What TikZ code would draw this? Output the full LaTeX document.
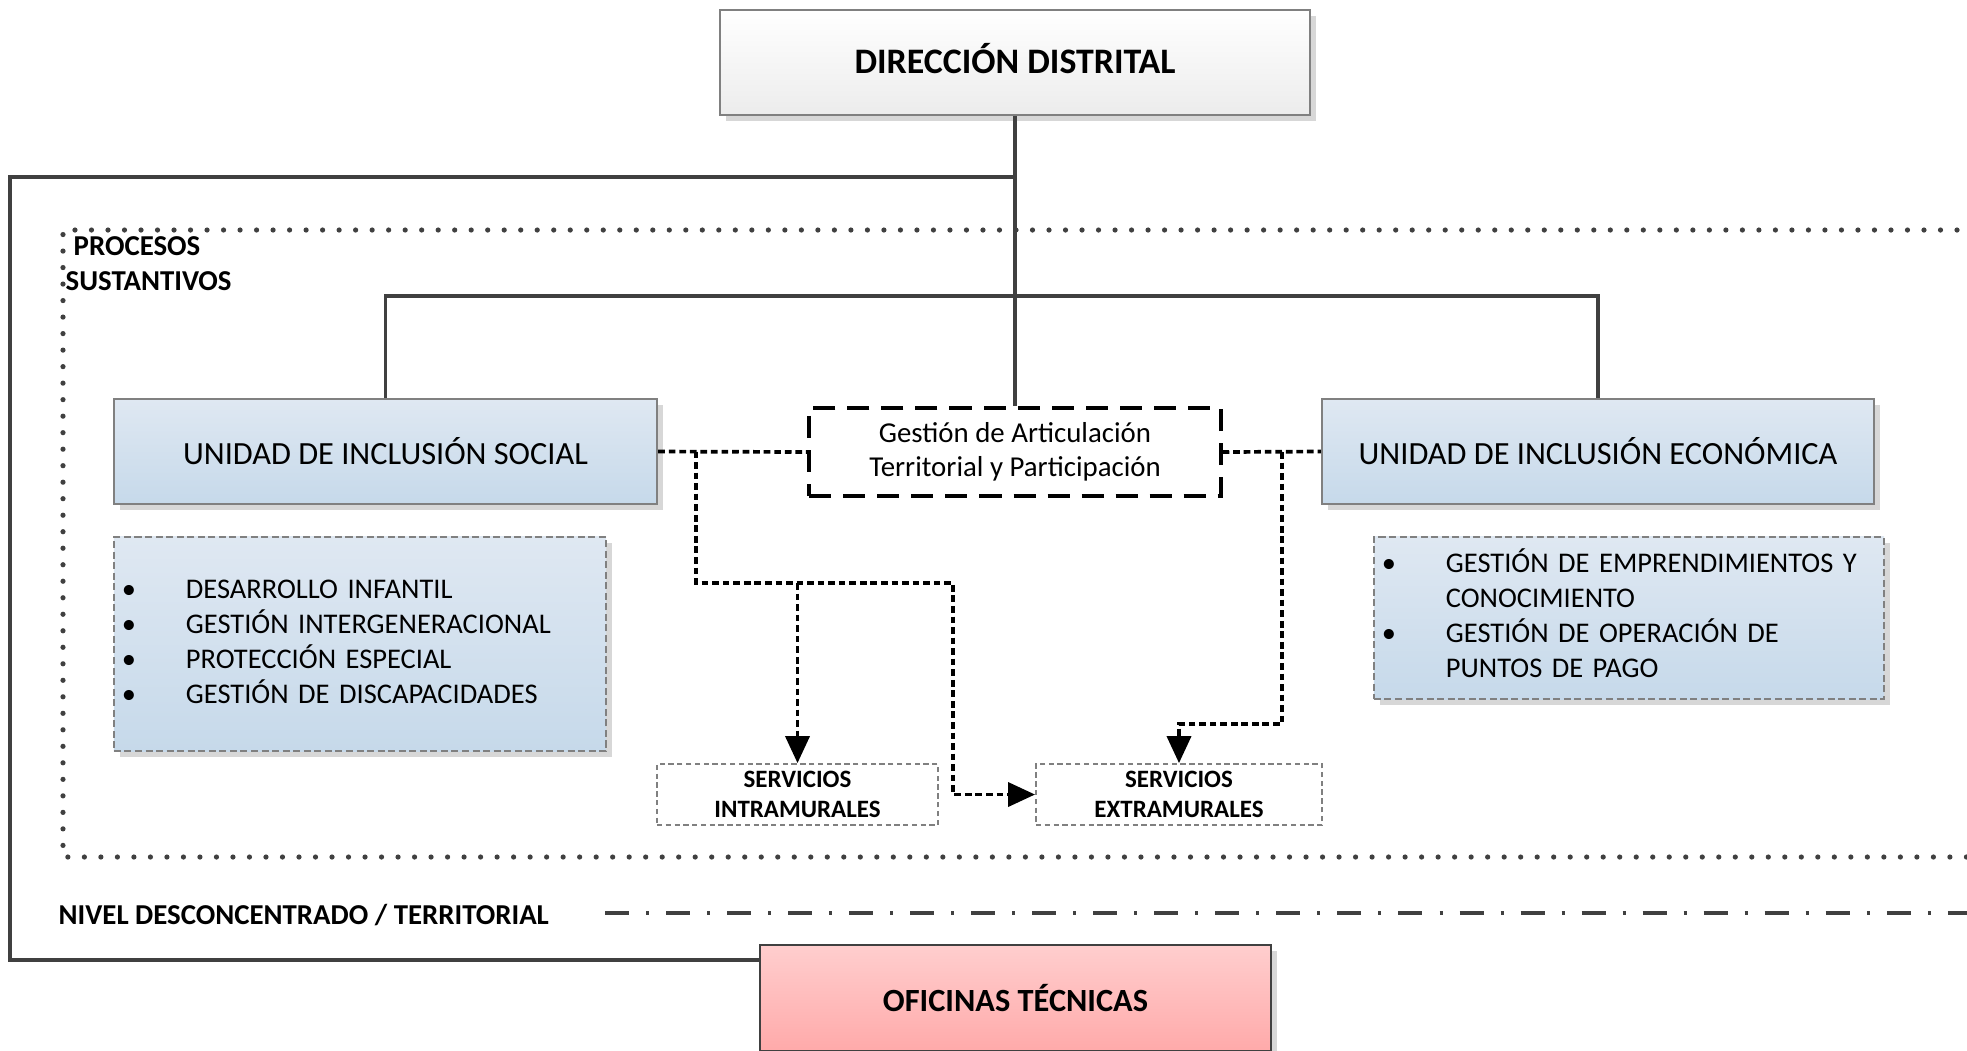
\documentclass[tikz,border=0pt]{standalone}
\usepackage{fontspec}
\setmainfont{Carlito}
\usepackage{tikz}
\usetikzlibrary{arrows.meta, shadows}
\definecolor{linecolor}{RGB}{64, 64, 64}
\definecolor{framecolor}{RGB}{128, 128, 128}
\definecolor{shadowcolor}{RGB}{215, 215, 215}
\definecolor{headbottom}{RGB}{236, 236, 236}
\definecolor{unittop}{RGB}{223, 232, 242}
\definecolor{unitbottom}{RGB}{198, 217, 234}
\definecolor{officetop}{RGB}{255, 206, 206}
\definecolor{officebottom}{RGB}{255, 170, 170}
\tikzset{
    boxshadow/.style = {
        drop shadow={shadow xshift=0.06cm, shadow yshift=-0.06cm, fill=shadowcolor, opacity=1}
    },
    headbox/.style = {
        rectangle, minimum width=5.9cm, minimum height=1.05cm, draw=framecolor, line width=0.6pt,
        top color=white, bottom color=headbottom, boxshadow,
        font=\fontsize{10.2}{12}\selectfont\bfseries
    },
    unitbox/.style = {
        rectangle, minimum height=1.05cm, draw=framecolor, line width=0.6pt,
        top color=unittop, bottom color=unitbottom, boxshadow,
        font=\fontsize{9.2}{11}\selectfont
    },
    listbox/.style = {
        rectangle, draw=framecolor, line width=0.5pt, dash pattern=on 2pt off 1pt,
        top color=unittop, bottom color=unitbottom, boxshadow,
        inner xsep=0.08cm, inner ysep=0pt, align=left,
        font=\fontsize{8.1}{10}\selectfont
    },
    articbox/.style = {
        rectangle, minimum width=4.11cm, minimum height=0.88cm, draw=black, line width=1.1pt,
        dash pattern=on 0.22cm off 0.12cm, fill=white, align=center,
        font=\fontsize{8.2}{9.7}\selectfont
    },
    servbox/.style = {
        rectangle, minimum height=0.61cm, draw=framecolor, line width=0.5pt,
        dash pattern=on 1.5pt off 1pt, fill=white, align=center, inner sep=0pt,
        font=\fontsize{7.1}{8.5}\selectfont\bfseries
    },
    officebox/.style = {
        rectangle, minimum width=5.11cm, minimum height=1.06cm, draw=linecolor, line width=0.6pt,
        top color=officetop, bottom color=officebottom, boxshadow,
        font=\fontsize{9.2}{11}\selectfont\bfseries
    },
    sectionlabel/.style = {
        inner sep=0pt, align=left, font=\fontsize{8.2}{10}\selectfont\bfseries
    },
    link/.style = {draw=linecolor, line width=0.036cm},
    flow/.style = {draw=black, line width=1.05pt, dash pattern=on 1.9pt off 1.1pt},
    flowarrow/.style = {flow, -{Triangle[length=0.27cm, width=0.24cm]}},
    dotframe/.style = {draw=linecolor, line width=0.052cm, line cap=round, dash pattern=on 0pt off 0.165cm},
    levelline/.style = {draw=linecolor, line width=0.042cm, dash pattern=on 0.24cm off 0.17cm on 0.03cm off 0.17cm}
}
\begin{document}
\begin{tikzpicture}[x=0.01cm, y=-0.01cm]
\useasboundingbox (0,0) rectangle (1967,1050);
\clip (0,0) rectangle (1967,1050);
% Frames
\draw[dotframe] (1990,230) -- (63,230) -- (63,857) -- (1990,857);
\draw[levelline] (605,913) -- (1990,913);
% Nodes
\node[headbox, text depth=0.08cm] (dir) at (1015,62.5) {DIRECCIÓN DISTRITAL};
\node[unitbox, minimum width=5.43cm] (social) at (385.5,451.5) {UNIDAD DE INCLUSIÓN SOCIAL};
\node[unitbox, minimum width=5.52cm] (economic) at (1598,451.5) {UNIDAD DE INCLUSIÓN ECONÓMICA};
\node[articbox] (artic) at (1015,452) {Gestión de Articulación\\Territorial y Participación};
\node[listbox, minimum height=2.14cm, text width=4.76cm] (sociallist) at (360,644) {%
\begin{tabular}{@{}p{0.64cm}@{}l@{}}
\textbullet & DESARROLLO INFANTIL\\
\textbullet & GESTIÓN INTERGENERACIONAL\\
\textbullet & PROTECCIÓN ESPECIAL\\
\textbullet & GESTIÓN DE DISCAPACIDADES
\end{tabular}};
\node[listbox, minimum height=1.62cm, text width=4.94cm] (economiclist) at (1629,618) {%
\begin{tabular}{@{}p{0.64cm}@{}l@{}}
\textbullet & GESTIÓN DE EMPRENDIMIENTOS Y\\
 & CONOCIMIENTO\\
\textbullet & GESTIÓN DE OPERACIÓN DE\\
 & PUNTOS DE PAGO
\end{tabular}};
\node[servbox, minimum width=2.81cm] (intra) at (797.5,794.5) {SERVICIOS\\INTRAMURALES};
\node[servbox, minimum width=2.86cm] (extra) at (1179,794.5) {SERVICIOS\\EXTRAMURALES};
\node[officebox] (office) at (1015.5,998) {OFICINAS TÉCNICAS};
\node[sectionlabel, anchor=west] (procesos) at (65,263.5) {\hspace{0.08cm}PROCESOS\\SUSTANTIVOS};
\node[sectionlabel, anchor=west] (nivel) at (58,915) {NIVEL DESCONCENTRADO / TERRITORIAL};
% Solid links
\coordinate (split) at (1015,177);
\coordinate (corner) at (10,177);
\draw[link] (dir.south) -- (artic.north);
\draw[link] (split) -- (corner) |- ([yshift=-0.16cm]office.north west);
\draw[link] (social.north) -- ++(0,-102) -| (economic.north);
% Dotted flows
\coordinate (leftdrop) at (696,451.5);
\coordinate (leftbend) at (953,583);
\coordinate (rightdrop) at (1282,452);
\coordinate (rightbend) at (1282,724);
\draw[flow] (social.east) -- (artic.west);
\draw[flow] (artic.east) -- (economic.west);
\draw[flowarrow] (leftdrop) |- (leftbend) |- (extra.west);
\draw[flowarrow] (intra.north |- leftbend) -- (intra.north);
\draw[flowarrow] (rightdrop) -- (rightbend) -| (extra.north);
\end{tikzpicture}
\end{document}
